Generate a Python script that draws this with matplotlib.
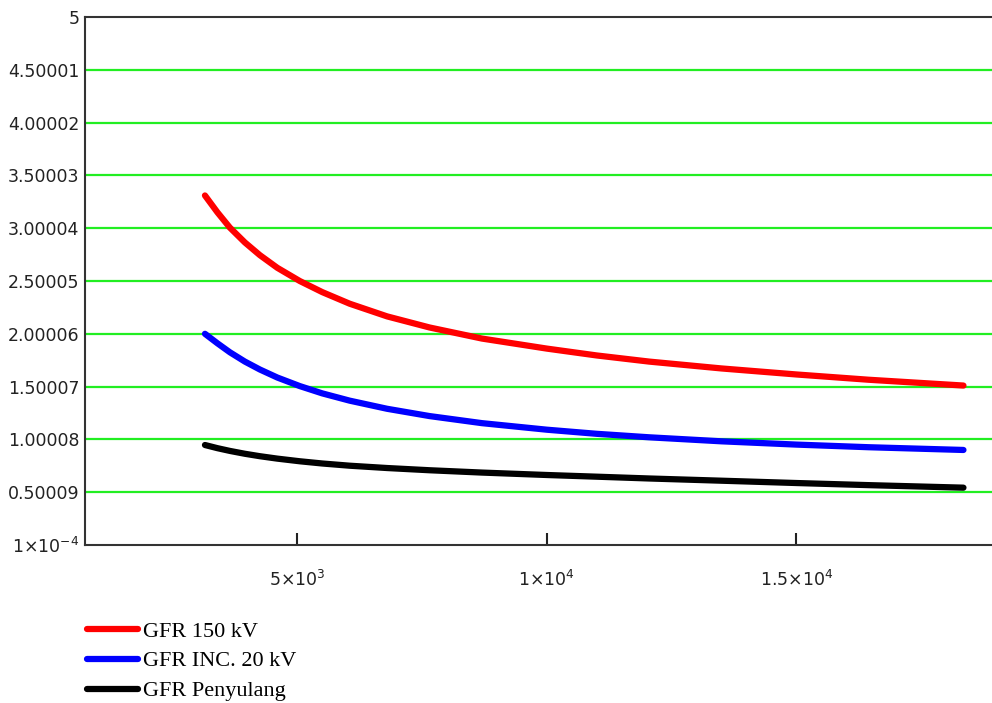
import matplotlib
matplotlib.use('Agg')
import matplotlib.pyplot as plt
import numpy as np

# values
x_vals = [3150, 3400, 3650, 3950, 4250, 4600, 5050, 5500, 6050, 6800,
          7650, 8700, 10000, 11000, 12050, 13500, 15000, 16450, 18350]
gfr_150 = [3.31, 3.15, 3.005, 2.865, 2.745, 2.625, 2.50, 2.395, 2.285, 2.165,
           2.06, 1.955, 1.86, 1.795, 1.737, 1.672, 1.615, 1.565, 1.51]
gfr_inc = [2.00, 1.91, 1.825, 1.737, 1.662, 1.586, 1.505, 1.436, 1.367, 1.29,
           1.221, 1.154, 1.092, 1.053, 1.02, 0.982, 0.951, 0.926, 0.90]
gfr_peny = [0.947, 0.917, 0.891, 0.864, 0.841, 0.818, 0.793, 0.772, 0.751, 0.729,
            0.708, 0.686, 0.663, 0.647, 0.630, 0.609, 0.587, 0.567, 0.543]
labels = ['GFR 150 kV', 'GFR INC. 20 kV', 'GFR Penyulang']
colors = ['#ff0000', '#0000ff', '#000000']

y_min, y_max = 1e-4, 5.0
y_ticks = np.linspace(y_min, y_max, 11)
y_ticklabels = ['$1{\\times}10^{-4}$', '0.50009', '1.00008', '1.50007', '2.00006',
                '2.50005', '3.00004', '3.50003', '4.00002', '4.50001', '5']
x_ticks = [5000, 10000, 15000]
x_ticklabels = ['$5{\\times}10^{3}$', '$1{\\times}10^{4}$', '$1.5{\\times}10^{4}$']

fig = plt.figure(figsize=(9.92, 7.03), dpi=100)
ax = fig.add_axes([85/992, 158/703, 1.0, 528/703])

# green horizontal grid lines
for yv in y_ticks[1:-1]:
    ax.axhline(yv, color='#22ee22', linewidth=1.6, zorder=1)

for yv, lab, c in zip([gfr_150, gfr_inc, gfr_peny], labels, colors):
    ax.plot(x_vals, yv, color=c, linewidth=4.5, label=lab, zorder=3,
            solid_capstyle='round', solid_joinstyle='round')

# axis spans 746..18922 over the visible 907 px, the axes runs past the figure
ax.set_xlim(746, 746 + (18922 - 746) * 992 / 907)
ax.set_ylim(y_min, y_max)

ax.set_yticks(y_ticks)
ax.set_yticklabels(y_ticklabels)
ax.set_xticks(x_ticks)
ax.set_xticklabels(x_ticklabels)
ax.tick_params(axis='y', length=0, pad=4, labelsize=12.5, colors='#222222')
ax.tick_params(axis='x', direction='in', length=9, width=1.5, pad=18,
               labelsize=12.5, colors='#222222')

for s in ['left', 'top', 'bottom']:
    ax.spines[s].set_color('#333333')
    ax.spines[s].set_linewidth(1.5)
ax.spines['right'].set_visible(False)

leg = ax.legend(loc='upper left', bbox_to_anchor=(87/992, 1 - 621/703),
                bbox_transform=fig.transFigure, frameon=False,
                prop={'family': 'Liberation Serif', 'size': 16},
                handlelength=2.3, handletextpad=0.22, labelspacing=0.42,
                borderpad=0, borderaxespad=0)
for line in leg.get_lines():
    line.set_linewidth(4.5)

fig.savefig('out.png', dpi=100)
